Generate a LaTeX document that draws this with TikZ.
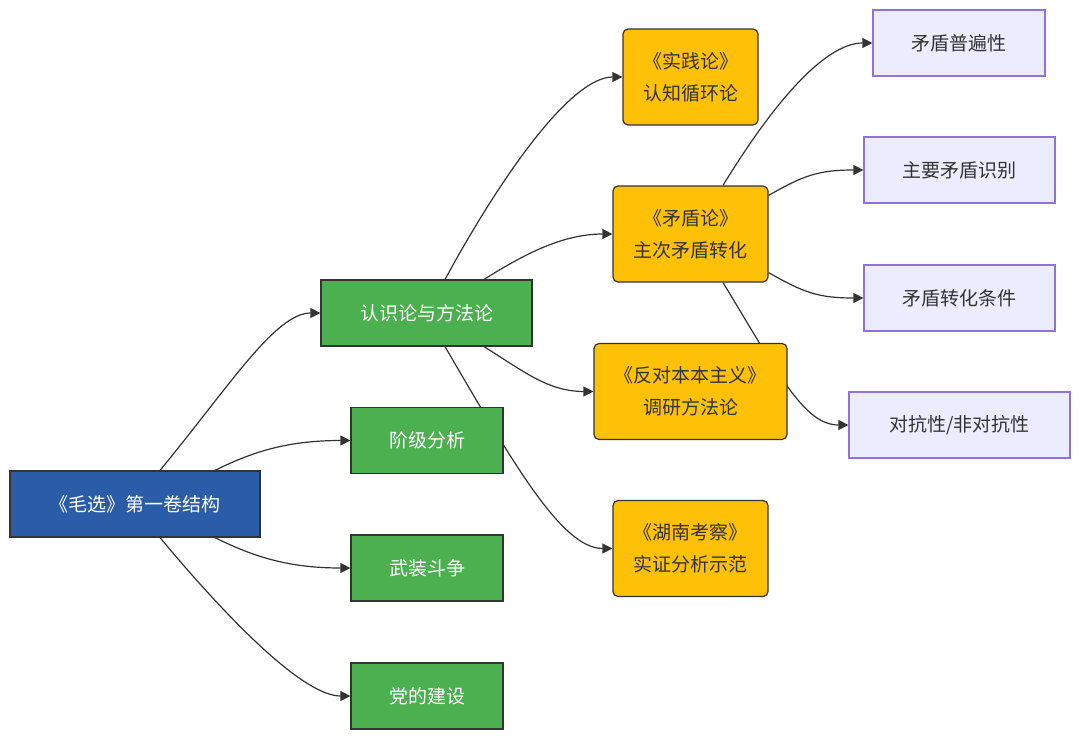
\documentclass[tikz,border=0pt]{standalone}
\usepackage{fontspec}
\setmainfont{Noto Sans CJK SC}
\usetikzlibrary{arrows.meta,calc,backgrounds}
\definecolor{rootblue}{RGB}{43,92,168}
\definecolor{midgreen}{RGB}{76,175,80}
\definecolor{leafamber}{RGB}{255,193,7}
\definecolor{tiplav}{RGB}{236,236,255}
\definecolor{tipedge}{RGB}{147,112,219}
\definecolor{inkgray}{RGB}{51,51,51}
\tikzset{
	box/.style={draw=inkgray, line width=0.6pt, align=center, inner sep=0pt, font=\fontsize{9.5}{16}\selectfont},
	rootbox/.style={box, fill=rootblue, text=white, minimum width=125pt, minimum height=33pt},
	midbox/.style={box, fill=midgreen, text=white, minimum height=33pt},
	leafbox/.style={box, fill=leafamber, text=inkgray, rounded corners=2.5pt, minimum height=48pt},
	tipbox/.style={box, draw=tipedge, fill=tiplav, text=inkgray, minimum height=33pt},
	link/.style={draw=inkgray, line width=0.6pt, -{Triangle[length=5pt,width=5pt]}}
}

\begin{document}
\begin{tikzpicture}[x=0.5pt, y=-0.5pt]
		%%%%% START %%%%%
		\useasboundingbox (0, 0) rectangle (1080, 739);
		
		\node[rootbox] (root) at (135, 504) {《毛选》第一卷结构};
		
		\node[midbox, minimum width=105.5pt] (method) at (426.5, 313) {认识论与方法论};
		\node[midbox, minimum width=76pt] (klass) at (427, 440.5) {阶级分析};
		\node[midbox, minimum width=76pt] (armed) at (427, 568) {武装斗争};
		\node[midbox, minimum width=76pt] (party) at (427, 696) {党的建设};
		
		\node[leafbox, minimum width=67.5pt] (practice) at (690.5, 77) {《实践论》\\认知循环论};
		\node[leafbox, minimum width=77.5pt] (contra) at (690.5, 234) {《矛盾论》\\主次矛盾转化};
		\node[leafbox, minimum width=96.5pt] (bookism) at (690.5, 391.5) {《反对本本主义》\\调研方法论};
		\node[leafbox, minimum width=77.5pt] (hunan) at (690.5, 548.5) {《湖南考察》\\实证分析示范};
		
		\node[tipbox, minimum width=86pt] (universal) at (959, 43) {矛盾普遍性};
		\node[tipbox, minimum width=95.5pt] (principal) at (959.5, 170) {主要矛盾识别};
		\node[tipbox, minimum width=95.5pt] (convert) at (959.5, 298) {矛盾转化条件};
		\node[tipbox, minimum width=110.5pt] (antag) at (959.5, 425) {对抗性/非对抗性};
		
		\begin{scope}[on background layer]
			% root to the four parts
			\draw[link] ($(root.north)+(25,0)$) .. controls +(70,-85) and +(-45,0) .. (method.west);
			\draw[link] ($(root.north)+(80,0)$) .. controls +(40,-20) and +(-60,0) .. (klass.west);
			\draw[link] ($(root.south)+(80,0)$) .. controls +(40,20) and +(-60,0) .. (armed.west);
			\draw[link] ($(root.south)+(25,0)$) .. controls +(75,90) and +(-45,0) .. (party.west);
			
			% method to the four texts
			\draw[link] ($(method.north)+(18.5,0)$) .. controls +(60,-110) and +(-50,0) .. (practice.west);
			\draw[link] ($(method.north)+(57.5,0)$) .. controls +(40,-25) and +(-50,0) .. (contra.west);
			\draw[link] ($(method.south)+(57.5,0)$) .. controls +(40,25) and +(-45,0) .. (bookism.west);
			\draw[link] ($(method.south)+(18.5,0)$) .. controls +(70,120) and +(-50,0) .. (hunan.west);
			
			% contradiction to its four points
			\draw[link] ($(contra.north)+(32.5,0)$) .. controls +(55,-90) and +(-45,0) .. (universal.west);
			\draw[link] ($(contra.north east)+(0,10)$) .. controls +(35,-20) and +(-45,0) .. (principal.west);
			\draw[link] ($(contra.south east)+(0,-10)$) .. controls +(35,20) and +(-45,0) .. (convert.west);
			\draw[link] ($(contra.south)+(32.5,0)$) .. controls +(55,90) and +(-45,0) .. (antag.west);
		\end{scope}
		
		%%%%% END %%%%%
	\end{tikzpicture}
\end{document}
